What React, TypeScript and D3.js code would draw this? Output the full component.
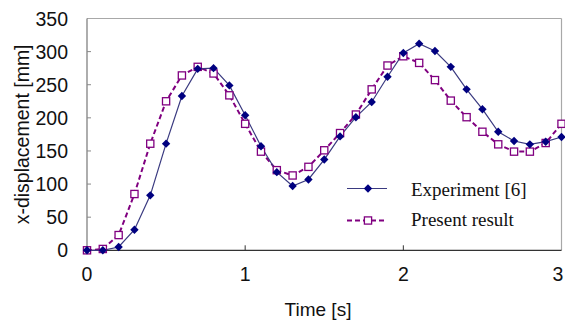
import React from "react";
import * as d3 from "d3";

const times = d3.range(0, 31).map((i) => i / 10);
const experiment = [0, 0, 5, 31, 83, 161, 233, 274, 275, 249, 204, 157, 118, 97, 107, 137, 172, 201, 224, 262, 298, 312, 301, 277, 243, 213, 179, 165, 160, 164, 171];
const present = [0, 2, 23, 85, 161, 225, 264, 277, 267, 234, 191, 149, 121, 113, 126, 151, 177, 205, 243, 279, 293, 283, 257, 226, 201, 179, 160, 149, 149, 162, 191];
const xTicks = [0, 1, 2, 3];
const yTicks = [0, 50, 100, 150, 200, 250, 300, 350];
const legendLabels = ["Experiment [6]", "Present result"];

const W = 565, H = 322;
const L = 87, R = 561.5, T = 18.5, B = 250.3;

export default function App() {
  const x = d3.scaleLinear().domain([0, 3]).range([L, R]);
  const y = d3.scaleLinear().domain([0, 350]).range([B, T]);
  const line = d3.line<number>().x((_, i) => x(times[i])).y((d) => y(d));
  const sans = "'Liberation Sans', Arial, sans-serif";
  const serif = "'Liberation Serif', 'Times New Roman', serif";
  const diamond = (cx: number, cy: number, r = 4.2) =>
    `M${cx},${cy - r}L${cx + r},${cy}L${cx},${cy + r}L${cx - r},${cy}Z`;
  const navy = "#000080";
  const purple = "#800080";
  const lineNavy = "#3a3a80";

  return (
    <svg width={W} height={H} style={{ position: "absolute", left: 0, top: 0, background: "#fff" }}>
      <rect x={0} y={0} width={W} height={H} fill="#fff" />
      {/* frame */}
      <line x1={L} x2={R} y1={T} y2={T} stroke="#a8a8a8" strokeWidth={1.2} />
      <line x1={R} x2={R} y1={T} y2={B} stroke="#a8a8a8" strokeWidth={1.2} />
      <line x1={L} x2={L} y1={T} y2={B} stroke="#777" strokeWidth={1.2} />
      <line x1={L} x2={R} y1={B} y2={B} stroke="#333" strokeWidth={1.2} />
      {/* y ticks */}
      {yTicks.map((t) => (
        <g key={"y" + t}>
          {t > 0 && t < 350 && <line x1={L} x2={L + 4} y1={y(t)} y2={y(t)} stroke="#888" />}
          <text x={68} y={y(t)} dy="0.36em" textAnchor="end" fontFamily={sans} fontSize={19.5} fill="#111">
            {t}
          </text>
        </g>
      ))}
      {/* x ticks */}
      {xTicks.map((t) => (
        <g key={"x" + t}>
          {t > 0 && t < 3 && <line x1={x(t)} x2={x(t)} y1={B} y2={B - 5} stroke="#333" />}
          <text x={Math.min(x(t), 558)} y={281} textAnchor="middle" fontFamily={sans} fontSize={19.5} fill="#111">
            {t}
          </text>
        </g>
      ))}
      <text x={318} y={316} textAnchor="middle" fontFamily={sans} fontSize={19} fill="#111">
        Time [s]
      </text>
      <text
        transform={`translate(29,${(T + B) / 2}) rotate(-90)`}
        textAnchor="middle"
        fontFamily={sans}
        fontSize={19.5}
        fill="#111"
      >
        x-displacement [mm]
      </text>
      {/* series */}
      <path d={line(present) || ""} fill="none" stroke={purple} strokeWidth={2} strokeDasharray="5,3" />
      <path d={line(experiment) || ""} fill="none" stroke={lineNavy} strokeWidth={1.2} />
      {present.map((v, i) => (
        <rect key={"p" + i} x={x(times[i]) - 3.6} y={y(v) - 3.6} width={7.2} height={7.2} fill="#fff" stroke={purple} strokeWidth={1.3} />
      ))}
      {experiment.map((v, i) => (
        <path key={"e" + i} d={diamond(x(times[i]), y(v))} fill={navy} />
      ))}
      {/* legend */}
      <line x1={347} x2={387} y1={188.5} y2={188.5} stroke={lineNavy} strokeWidth={1.2} />
      <path d={diamond(368, 188.5)} fill={navy} />
      <text x={411} y={196} fontFamily={serif} fontSize={19} fill="#111">
        {legendLabels[0]}
      </text>
      <line x1={347} x2={387} y1={220.5} y2={220.5} stroke={purple} strokeWidth={2} strokeDasharray="5,3" />
      <rect x={368 - 3.6} y={220.5 - 3.6} width={7.2} height={7.2} fill="#fff" stroke={purple} strokeWidth={1.3} />
      <text x={411} y={225.5} fontFamily={serif} fontSize={19} fill="#111">
        {legendLabels[1]}
      </text>
    </svg>
  );
}
